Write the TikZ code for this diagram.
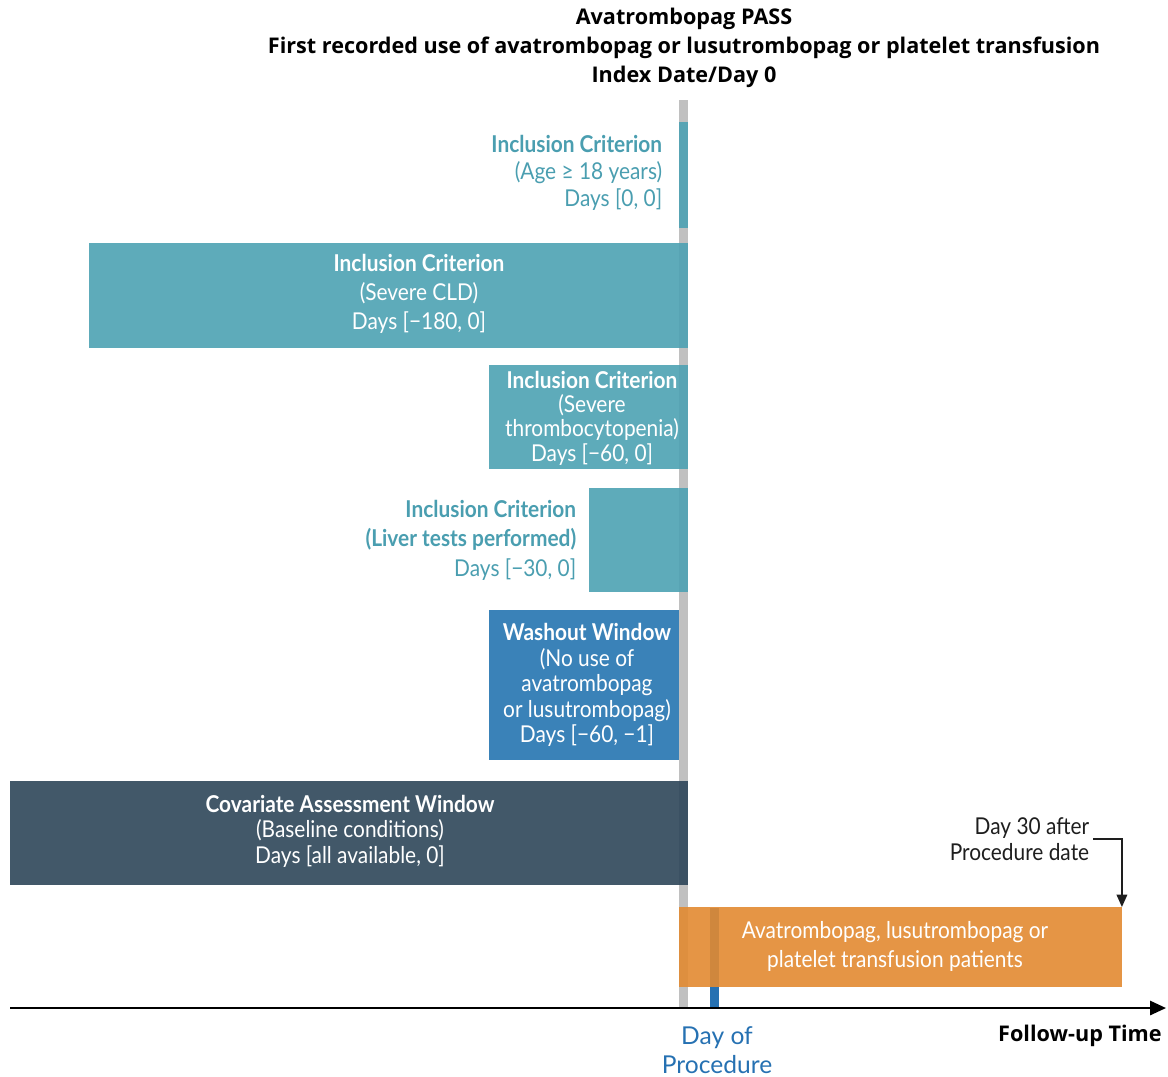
\documentclass[tikz,border=0pt]{standalone}
\usepackage{fontspec}
\setmainfont{Lato}
\newfontfamily\condfont[FakeStretch=0.9]{Lato}
\newfontfamily\headfont{Open Sans}
\usepackage{xcolor}
\usepackage{tikz}
\usetikzlibrary{arrows.meta, positioning}
\definecolor{barteal}{RGB}{77, 162, 179}
\definecolor{textteal}{RGB}{74, 158, 176}
\definecolor{barblue}{RGB}{58, 130, 184}
\definecolor{barslate}{RGB}{45, 70, 89}
\definecolor{barorange}{RGB}{226, 138, 49}
\definecolor{procblue}{RGB}{38, 113, 178}
\definecolor{linegray}{RGB}{192, 192, 192}
\definecolor{darktext}{RGB}{30, 30, 30}

\begin{document}
\begin{tikzpicture}[
  x=0.02cm, y=-0.02cm,
  bar/.style={inner sep=0pt, outer sep=0pt, anchor=north west, fill opacity=0.9},
  tealbar/.style={bar, fill=barteal},
  bartext/.style={font=\condfont\fontsize{13.2}{14.5}\selectfont, text=white, align=center, inner sep=2pt},
  tealtext/.style={bartext, text=textteal, align=right},
  title/.style={font=\headfont\bfseries\fontsize{12.3}{16.5}\selectfont, align=center},
  vline/.style={line width=5.1pt},
  arrow/.style={-{Triangle[length=7pt, width=6pt]}, line width=0.9pt, color=darktext}
]
\useasboundingbox (0,0) rectangle (1168,1076);

% Title
\node[title] (title) at (684,48) {Avatrombopag PASS\\First recorded use of avatrombopag or lusutrombopag or platelet transfusion\\Index Date/Day 0};

% Index date and procedure lines
\coordinate (idxtop) at (683.5,100);
\coordinate (idxbot) at (683.5,1008);
\coordinate (proctop) at (714.5,908);
\coordinate (procbot) at (714.5,1008);
\draw[vline, linegray] (idxtop) -- (idxbot);
\draw[vline, procblue] (proctop) -- (procbot);

% Bars
\node[tealbar, minimum width=0.18cm, minimum height=2.12cm] (age) at (679,122) {};
\node[tealbar, minimum width=11.98cm, minimum height=2.1cm] (cld) at (89,243) {};
\node[tealbar, minimum width=3.98cm, minimum height=2.08cm] (thromb) at (489,365) {};
\node[tealbar, minimum width=1.98cm, minimum height=2.08cm] (liver) at (589,488) {};
\node[bar, fill=barblue, fill opacity=1, minimum width=3.8cm, minimum height=3cm] (washout) at (489,610) {};
\node[bar, fill=barslate, minimum width=13.56cm, minimum height=2.08cm] (covar) at (10,781) {};
\node[bar, fill=barorange, minimum width=8.86cm, minimum height=1.6cm] (followbar) at (679,907) {};

% Bar labels
\node[tealtext, font=\condfont\fontsize{13.2}{15.2}\selectfont, anchor=east] (agetxt) at (666,173) {\textbf{Inclusion Criterion}\\(Age ≥ 18 years)\\Days [0, 0]};
\node[bartext, font=\condfont\fontsize{13.2}{16.5}\selectfont] (cldtxt) at (419,294) {\textbf{Inclusion Criterion}\\(Severe CLD)\\Days [−180, 0]};
\node[bartext, font=\condfont\fontsize{13.2}{13.9}\selectfont] (thrtxt) at (592,418) {\textbf{Inclusion Criterion}\\(Severe\\thrombocytopenia)\\Days [−60, 0]};
\node[tealtext, font=\condfont\fontsize{13.2}{16.8}\selectfont, anchor=east] (livertxt) at (580,540) {\textbf{Inclusion Criterion}\\\textbf{(Liver tests performed)}\\Days [−30, 0]};
\node[bartext] (washtxt) at (587,685) {\textbf{Washout Window}\\(No use of\\avatrombopag\\or lusutrombopag)\\Days [−60, −1]};
\node[bartext] (covtxt) at (350,831) {\textbf{Covariate Assessment Window}\\(Baseline conditions)\\Days [all available, 0]};
\node[bartext, font=\condfont\fontsize{13.2}{16.5}\selectfont] (followtxt) at (895,946) {Avatrombopag, lusutrombopag or\\platelet transfusion patients};

% Time axis
\coordinate (axl) at (10,1008);
\coordinate (axr) at (1166,1008);
\draw[-{Triangle[length=9pt, width=8pt]}, line width=1.3pt, black] (axl) -- (axr);

% Axis labels
\node[font=\fontsize{14}{16.5}\selectfont, text=procblue, align=center] (proc) at (717,1050) {Day of\\Procedure};
\node[font=\headfont\bfseries\fontsize{12.3}{14}\selectfont, anchor=east, inner sep=0pt] (fuptime) at (1162,1036) {Follow-up Time};

% Day 30 marker
\node[bartext, text=darktext, align=right, anchor=east] (day30) at (1093,839) {Day 30 after\\Procedure date};
\draw[arrow] (day30.east) -| (followbar.north east);

\end{tikzpicture}
\end{document}
